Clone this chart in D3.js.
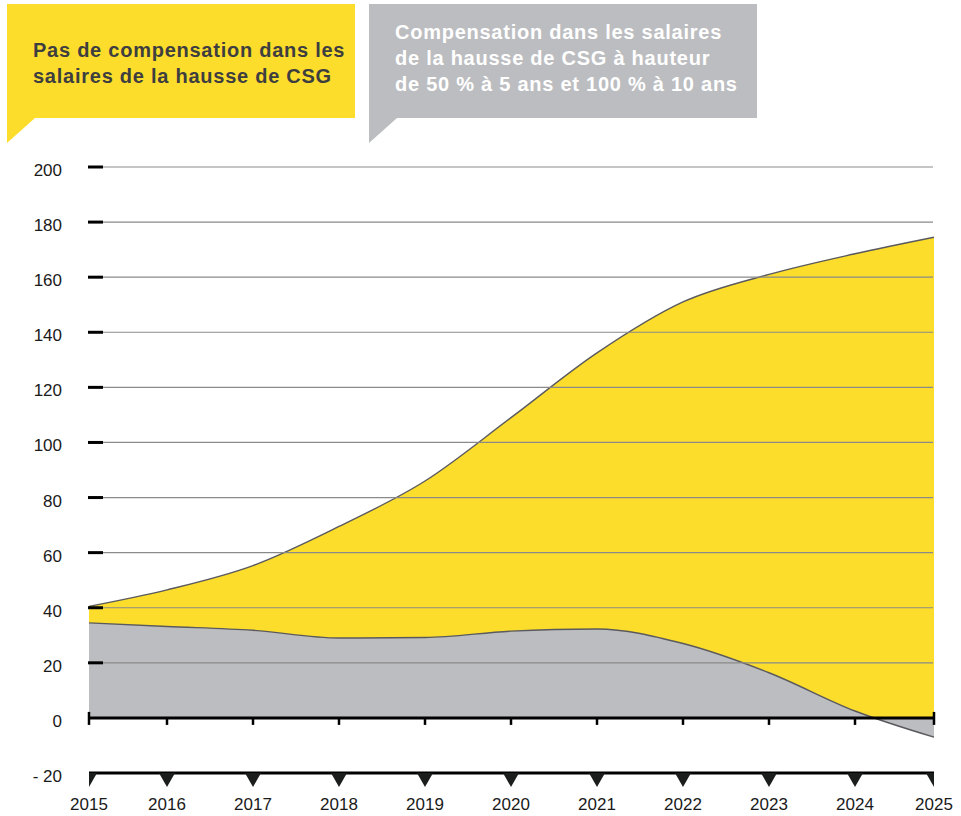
<!DOCTYPE html>
<html>
<head>
<meta charset="utf-8">
<script src="https://cdn.jsdelivr.net/npm/d3@7"></script>
<style>
  body { margin: 0; background: #fff; }
  svg { display: block; font-family: "Liberation Sans", Arial, Helvetica, sans-serif; }
</style>
</head>
<body>
<div id="chart"></div>
<script>
var width = 961, height = 816;

// data
var years = [2015, 2016, 2017, 2018, 2019, 2020, 2021, 2022, 2023, 2024, 2025];
var sansCompensation = [40.5, 46.5, 55.3, 69.5, 86, 109, 132.5, 151, 161, 168.5, 174.5];
var avecCompensation = [34.5, 33.2, 31.8, 29, 29.2, 31.5, 32.3, 27, 16.4, 2.5, -7];
var yTicks = [-20, 0, 20, 40, 60, 80, 100, 120, 140, 160, 180, 200];
var yTickLabels = ["- 20", "0", "20", "40", "60", "80", "100", "120", "140", "160", "180", "200"];
var legendJaune = ["Pas de compensation dans les", "salaires de la hausse de CSG"];
var legendGris = ["Compensation dans les salaires", "de la hausse de CSG à hauteur", "de 50 % à 5 ans et 100 % à 10 ans"];

var yellow = "#fcdd2b", grey = "#bcbdc0", lineCol = "#5a5a5e";

var svg = d3.select("#chart").append("svg")
    .attr("width", width).attr("height", height);

// x scale: first and last year intervals are a bit narrower
var x = d3.scaleLinear()
    .domain([2015, 2016, 2024, 2025])
    .range([89, 167, 855, 934]);
var y = d3.scaleLinear().domain([-20, 200]).range([773, 167]);

// legend boxes (speech bubbles)
function bubble(x0, x1, fill, lines, textCol) {
  var g = svg.append("g");
  g.append("path")
    .attr("d", "M" + x0 + ",4H" + x1 + "V118H" + (x0 + 28) + "L" + x0 + ",143Z")
    .attr("fill", fill);
  g.append("text")
    .attr("fill", textCol)
    .style("font-size", "20px")
    .style("font-weight", "bold")
    .style("letter-spacing", "0.75px")
    .selectAll("tspan").data(lines).enter().append("tspan")
    .attr("x", x0 + 26)
    .attr("y", function(d, i) { return (lines.length == 2 ? 57 : 39) + i * 26; })
    .text(function(d) { return d; });
}
bubble(7, 355, yellow, legendJaune, "#3e3e40");
bubble(369, 757, grey, legendGris, "#ffffff");

// areas
var area = function(vals) {
  return d3.area()
    .x(function(d, i) { return x(years[i]); })
    .y0(y(0))
    .y1(function(d) { return y(d); })
    .curve(d3.curveMonotoneX)(vals);
};
var line = function(vals) {
  return d3.line()
    .x(function(d, i) { return x(years[i]); })
    .y(function(d) { return y(d); })
    .curve(d3.curveMonotoneX)(vals);
};

svg.append("path").attr("d", area(sansCompensation)).attr("fill", yellow);
svg.append("path").attr("d", area(avecCompensation)).attr("fill", grey);
svg.append("path").attr("d", line(sansCompensation))
  .attr("fill", "none").attr("stroke", lineCol).attr("stroke-width", 1.4);
svg.append("path").attr("d", line(avecCompensation))
  .attr("fill", "none").attr("stroke", lineCol).attr("stroke-width", 1.4);

// gridlines on top of the areas
var gridVals = yTicks.filter(function(d) { return d > 0; });
svg.selectAll(".grid").data(gridVals).enter().append("line")
  .attr("class", "grid")
  .attr("x1", 103).attr("x2", 933)
  .attr("y1", function(d) { return y(d); })
  .attr("y2", function(d) { return y(d); })
  .attr("stroke", "#8a8a8a").attr("stroke-width", 1.2);
svg.selectAll(".ytick").data(gridVals).enter().append("line")
  .attr("class", "ytick")
  .attr("x1", 88).attr("x2", 103)
  .attr("y1", function(d) { return y(d); })
  .attr("y2", function(d) { return y(d); })
  .attr("stroke", "#000").attr("stroke-width", 3);

// y labels
svg.selectAll(".ylab").data(yTicks).enter().append("text")
  .attr("class", "ylab")
  .attr("x", 62)
  .attr("y", function(d) { return y(d) + 9; })
  .attr("text-anchor", "end")
  .attr("fill", "#1a1a1a")
  .style("font-size", "17px")
  .text(function(d, i) { return yTickLabels[i]; });

// zero axis
var x0 = x(2015), x1 = x(2025);
svg.append("line")
  .attr("x1", x0).attr("x2", x1)
  .attr("y1", y(0)).attr("y2", y(0))
  .attr("stroke", "#000").attr("stroke-width", 3);
svg.selectAll(".ztick").data(years).enter().append("line")
  .attr("class", "ztick")
  .attr("x1", function(d) { return x(d); })
  .attr("x2", function(d) { return x(d); })
  .attr("y1", function(d, i) { return (i == 0 || i == years.length - 1) ? y(0) - 6 : y(0); })
  .attr("y2", y(0) + 7)
  .attr("stroke", "#000").attr("stroke-width", 2.5);

// bottom axis with triangles
svg.append("clipPath").attr("id", "clipAxis")
  .append("rect").attr("x", x0).attr("y", 700).attr("width", x1 - x0).attr("height", 100);
var axisG = svg.append("g").attr("clip-path", "url(#clipAxis)");
axisG.append("line")
  .attr("x1", x0).attr("x2", x1)
  .attr("y1", y(-20)).attr("y2", y(-20))
  .attr("stroke", "#000").attr("stroke-width", 3);
axisG.selectAll(".tri").data(years).enter().append("path")
  .attr("class", "tri")
  .attr("d", function(d) {
    var cx = x(d), t = y(-20);
    return "M" + (cx - 8) + "," + t + "L" + (cx + 8) + "," + t + "L" + cx + "," + (t + 14) + "Z";
  })
  .attr("fill", "#1b1d1d");

svg.selectAll(".xlab").data(years).enter().append("text")
  .attr("class", "xlab")
  .attr("x", function(d) { return x(d); })
  .attr("y", 810)
  .attr("text-anchor", "middle")
  .attr("fill", "#1a1a1a")
  .style("font-size", "17px")
  .text(function(d) { return d; });
</script>
</body>
</html>
